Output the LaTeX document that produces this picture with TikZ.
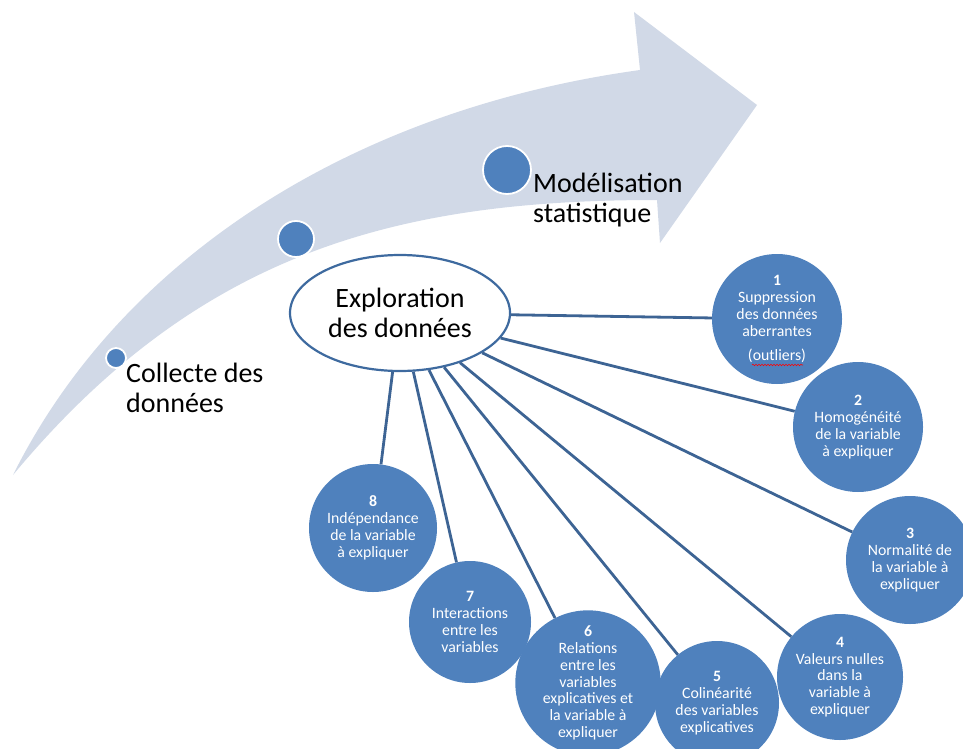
\documentclass[tikz,border=0pt]{standalone}
\usepackage{fontspec}
\setmainfont{Carlito}
\usetikzlibrary{shapes.geometric,decorations.pathmorphing}
\definecolor{arrowfill}{HTML}{D1D9E7}
\definecolor{dotblue}{HTML}{4F81BD}
\definecolor{linkblue}{HTML}{3D6494}
\definecolor{ellblue}{HTML}{3E6A9F}
\begin{document}
\begin{tikzpicture}[x=1pt,y=-1pt,
  dot/.style={circle, fill=dotblue, draw=white, line width=1.8pt, inner sep=0pt},
  biglabel/.style={font=\fontsize{28}{29.5}\selectfont, align=left, inner sep=0pt, text=black},
  cbox/.style={circle, fill=dotblue, text=white, inner sep=0pt, align=center,
    font=\fontsize{15.8}{16.8}\selectfont},
  link/.style={draw=linkblue, line width=2.8pt}]
\useasboundingbox (0,0) rectangle (963,749);
% big curved arrow
\fill[arrowfill] (13,475) .. controls (120,260) and (350,110) .. (640,70)
  -- (634,12) -- (757,105) -- (660,243) -- (657,200)
  .. controls (400,200) and (200,250) .. (13,475) -- cycle;
% dots on the arrow
\node[dot, minimum size=20pt] (d1) at (116,358) {};
\node[dot, minimum size=36pt] (d2) at (296,239) {};
\node[dot, minimum size=48pt] (d3) at (507,170) {};
\node[biglabel, anchor=north west] (l1) at (126,363) {Collecte des\\données};
\node[biglabel, anchor=north west] (l3) at (533,173) {Modélisation\\statistique};
% circles
\node[cbox, minimum size=130pt] (c1) at (777,319) {\textbf{1}\\Suppression\\des données\\aberrantes\\[7pt](outliers)};
\node[cbox, minimum size=130pt] (c2) at (858,427) {\textbf{2}\\Homogénéité\\de la variable\\à expliquer};
\node[cbox, minimum size=128pt] (c3) at (910,560) {\textbf{3}\\Normalité de\\la variable à\\expliquer};
\node[cbox, minimum size=126pt] (c4) at (840,677) {\textbf{4}\\Valeurs nulles\\dans la\\variable à\\expliquer};
\node[cbox, minimum size=124pt] (c5) at (717,703) {\textbf{5}\\Colinéarité\\des variables\\explicatives};
\node[cbox, minimum size=130pt] (c6) at (588,683) {\textbf{6}\\Relations\\entre les\\variables\\explicatives et\\la variable à\\expliquer};
\node[cbox, minimum size=122pt] (c7) at (470,622) {\textbf{7}\\Interactions\\entre les\\variables};
\node[cbox, minimum size=128pt] (c8) at (373,528) {\textbf{8}\\Indépendance\\de la variable\\à expliquer};
\draw[red, line width=0.6pt, decorate, decoration={snake, amplitude=0.7pt, segment length=3pt}] (752,365) -- (803,365);
% central ellipse
\node[ellipse, draw=ellblue, line width=2.2pt, fill=white, minimum width=220pt, minimum height=116pt,
  inner sep=0pt, align=center, font=\fontsize{28}{29.5}\selectfont] (ell) at (400,313) {Exploration\\des données};
\foreach \i in {1,...,8} { \draw[link] (ell) -- (c\i); }
\end{tikzpicture}
\end{document}
